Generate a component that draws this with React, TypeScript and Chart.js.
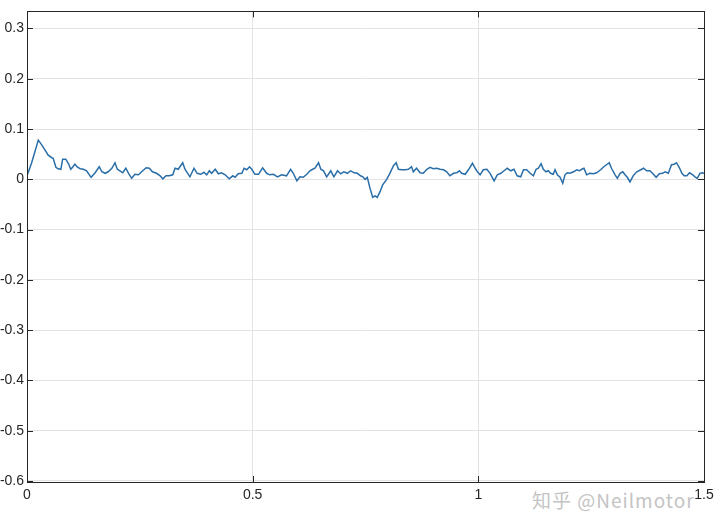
import { useEffect, useRef } from 'react';
import { Chart, registerables } from 'chart.js';

Chart.register(...registerables);

// time axis (s) and signal
const T = [
  0, 0.010, 0.025, 0.033, 0.040, 0.047, 0.055, 0.058, 0.064, 0.069, 0.075, 0.079, 0.086, 0.092, 0.097,
  0.101, 0.106, 0.112, 0.118, 0.125, 0.132, 0.142, 0.151, 0.160, 0.166, 0.173, 0.180, 0.188, 0.195, 0.200,
  0.206, 0.212, 0.219, 0.225, 0.232, 0.239, 0.247, 0.254, 0.264, 0.271, 0.278, 0.287, 0.295, 0.301, 0.308,
  0.315, 0.323, 0.328, 0.335, 0.345, 0.350, 0.356, 0.361, 0.370, 0.377, 0.385, 0.392, 0.398, 0.404, 0.409,
  0.417, 0.424, 0.431, 0.439, 0.448, 0.456, 0.461, 0.468, 0.476, 0.481, 0.487, 0.493, 0.498, 0.505, 0.513,
  0.522, 0.531, 0.538, 0.546, 0.555, 0.564, 0.575, 0.584, 0.590, 0.598, 0.605, 0.612, 0.620, 0.627, 0.633,
  0.638, 0.646, 0.651, 0.657, 0.664, 0.673, 0.680, 0.688, 0.695, 0.702, 0.710, 0.717, 0.725, 0.732, 0.739,
  0.744, 0.749, 0.754, 0.760, 0.766, 0.771, 0.776, 0.782, 0.788, 0.797, 0.804, 0.812, 0.818, 0.823, 0.830,
  0.838, 0.845, 0.852, 0.856, 0.863, 0.871, 0.878, 0.886, 0.893, 0.900, 0.908, 0.915, 0.923, 0.930, 0.937,
  0.945, 0.952, 0.958, 0.963, 0.971, 0.978, 0.987, 0.993, 0.998, 1.004, 1.011, 1.019, 1.026, 1.035, 1.042,
  1.050, 1.057, 1.064, 1.072, 1.079, 1.086, 1.094, 1.100, 1.107, 1.115, 1.122, 1.128, 1.133, 1.139, 1.144,
  1.150, 1.155, 1.160, 1.166, 1.170, 1.175, 1.181, 1.187, 1.192, 1.197, 1.203, 1.211, 1.218, 1.224, 1.229,
  1.234, 1.240, 1.247, 1.255, 1.262, 1.271, 1.278, 1.284, 1.290, 1.295, 1.303, 1.308, 1.314, 1.320, 1.325,
  1.330, 1.336, 1.343, 1.351, 1.360, 1.366, 1.373, 1.380, 1.386, 1.394, 1.401, 1.408, 1.414, 1.421, 1.428,
  1.434, 1.439, 1.445, 1.451, 1.456, 1.462, 1.468, 1.475, 1.480, 1.485, 1.491, 1.496, 1.500,
];

const V = [
  0.007, 0.032, 0.078, 0.068, 0.058, 0.048, 0.043, 0.042, 0.024, 0.021, 0.020, 0.040, 0.040, 0.031, 0.020,
  0.024, 0.030, 0.024, 0.021, 0.020, 0.017, 0.004, 0.013, 0.025, 0.015, 0.012, 0.015, 0.022, 0.033, 0.020,
  0.017, 0.013, 0.022, 0.012, 0.002, 0.010, 0.009, 0.015, 0.023, 0.022, 0.015, 0.012, 0.007, 0.001, 0.007,
  0.007, 0.009, 0.022, 0.020, 0.033, 0.020, 0.012, 0.005, 0.022, 0.012, 0.010, 0.014, 0.009, 0.017, 0.012,
  0.020, 0.011, 0.013, 0.009, 0.001, 0.007, 0.004, 0.011, 0.012, 0.022, 0.019, 0.025, 0.020, 0.010, 0.010,
  0.023, 0.012, 0.009, 0.010, 0.005, 0.009, 0.007, 0.020, 0.012, -0.003, 0.005, 0.004, 0.010, 0.017, 0.020,
  0.022, 0.033, 0.020, 0.017, 0.005, 0.017, 0.005, 0.017, 0.011, 0.015, 0.012, 0.017, 0.013, 0.012, 0.007,
  0.005, 0.000, 0.004, -0.018, -0.036, -0.033, -0.036, -0.025, -0.011, 0.000, 0.012, 0.027, 0.033, 0.020, 0.019,
  0.019, 0.020, 0.025, 0.015, 0.022, 0.013, 0.012, 0.020, 0.024, 0.021, 0.022, 0.020, 0.019, 0.015, 0.007,
  0.012, 0.013, 0.017, 0.012, 0.010, 0.019, 0.032, 0.022, 0.015, 0.009, 0.019, 0.020, 0.012, -0.003, 0.009,
  0.012, 0.017, 0.022, 0.017, 0.020, 0.007, 0.005, 0.019, 0.019, 0.012, 0.007, 0.020, 0.022, 0.031, 0.020,
  0.015, 0.017, 0.012, 0.010, 0.019, 0.009, 0.004, -0.008, 0.009, 0.013, 0.012, 0.015, 0.019, 0.017, 0.020,
  0.022, 0.009, 0.012, 0.011, 0.013, 0.019, 0.025, 0.029, 0.033, 0.022, 0.009, 0.002, 0.012, 0.015, 0.009,
  0.004, -0.005, 0.007, 0.015, 0.019, 0.022, 0.017, 0.017, 0.012, 0.004, 0.011, 0.012, 0.015, 0.012, 0.029,
  0.030, 0.033, 0.024, 0.012, 0.007, 0.007, 0.013, 0.009, 0.005, 0.002, 0.012, 0.013, 0.012,
];

const X_TICKS = [0, 0.5, 1, 1.5];
const Y_TICKS = [-0.6, -0.5, -0.4, -0.3, -0.2, -0.1, 0, 0.1, 0.2, 0.3];
const X_RANGE = [0, 1.5];
const Y_RANGE = [-0.602, 0.334];

const FONT = { family: '"Liberation Sans", Arial, Helvetica, sans-serif', size: 14 };
const fmt = (v: number) => String(Number(v.toFixed(2)));

// MATLAB-style box with inward ticks on all four sides
const boxPlugin = {
  id: 'matlabBox',
  afterDatasetsDraw(chart: any) {
    const { ctx, chartArea: a, scales } = chart;
    const len = 6;
    ctx.save();
    ctx.strokeStyle = '#262626';
    ctx.lineWidth = 1;
    ctx.beginPath();
    for (const v of X_TICKS) {
      const px = Math.round(scales.x.getPixelForValue(v)) + 0.5;
      ctx.moveTo(px, a.bottom);
      ctx.lineTo(px, a.bottom - len);
      ctx.moveTo(px, a.top);
      ctx.lineTo(px, a.top + len);
    }
    for (const v of Y_TICKS) {
      const py = Math.round(scales.y.getPixelForValue(v)) + 0.5;
      ctx.moveTo(a.left, py);
      ctx.lineTo(a.left + len, py);
      ctx.moveTo(a.right, py);
      ctx.lineTo(a.right - len, py);
    }
    ctx.stroke();
    ctx.strokeRect(Math.round(a.left) + 0.5, Math.round(a.top) + 0.5, Math.round(a.right - a.left), Math.round(a.bottom - a.top));
    ctx.restore();
  },
};

export default function App() {
  const canvasRef = useRef<HTMLCanvasElement>(null);

  useEffect(() => {
    if (!canvasRef.current) return;
    const chart = new Chart(canvasRef.current, {
      type: 'line',
      data: {
        datasets: [{
          data: T.map((t, i) => ({ x: t, y: V[i] })),
          borderColor: '#2a6ea8',
          borderWidth: 1.5,
          pointRadius: 0,
          tension: 0,
          fill: false,
        }],
      },
      options: {
        animation: false,
        responsive: false,
        maintainAspectRatio: false,
        layout: { padding: { left: 0, right: 16, top: 10, bottom: 0 } },
        plugins: { legend: { display: false }, tooltip: { enabled: false } },
        scales: {
          x: {
            type: 'linear',
            min: X_RANGE[0],
            max: X_RANGE[1],
            afterBuildTicks: (s: any) => { s.ticks = X_TICKS.map((value) => ({ value })); },
            afterFit: (s: any) => { s.height = 48; },
            ticks: { font: FONT, color: '#262626', padding: 5, maxRotation: 0, autoSkip: false, callback: (v: any) => fmt(Number(v)) },
            grid: { color: '#e3e3e3', drawTicks: false },
            border: { display: false },
          },
          y: {
            type: 'linear',
            min: Y_RANGE[0],
            max: Y_RANGE[1],
            afterBuildTicks: (s: any) => { s.ticks = Y_TICKS.map((value) => ({ value })); },
            afterFit: (s: any) => { s.width = 27; },
            ticks: { font: FONT, color: '#262626', padding: 3, autoSkip: false, callback: (v: any) => fmt(Number(v)) },
            grid: { color: '#e3e3e3', drawTicks: false },
            border: { display: false },
          },
        },
      },
      plugins: [boxPlugin],
    });
    return () => chart.destroy();
  }, []);

  return (
    <div style={{ position: 'absolute', left: 0, top: 0, width: 720, height: 530, background: '#fff' }}>
      <div
        style={{
          position: 'absolute',
          left: 532,
          top: 486,
          fontSize: 19,
          letterSpacing: 1,
          color: '#c4c4c4',
          fontFamily: '"Noto Sans CJK SC", "Noto Sans", sans-serif',
          whiteSpace: 'nowrap',
        }}
      >
        知乎 @Neilmotor
      </div>
      <canvas ref={canvasRef} width={720} height={530} style={{ position: 'absolute', left: 0, top: 0 }} />
    </div>
  );
}
